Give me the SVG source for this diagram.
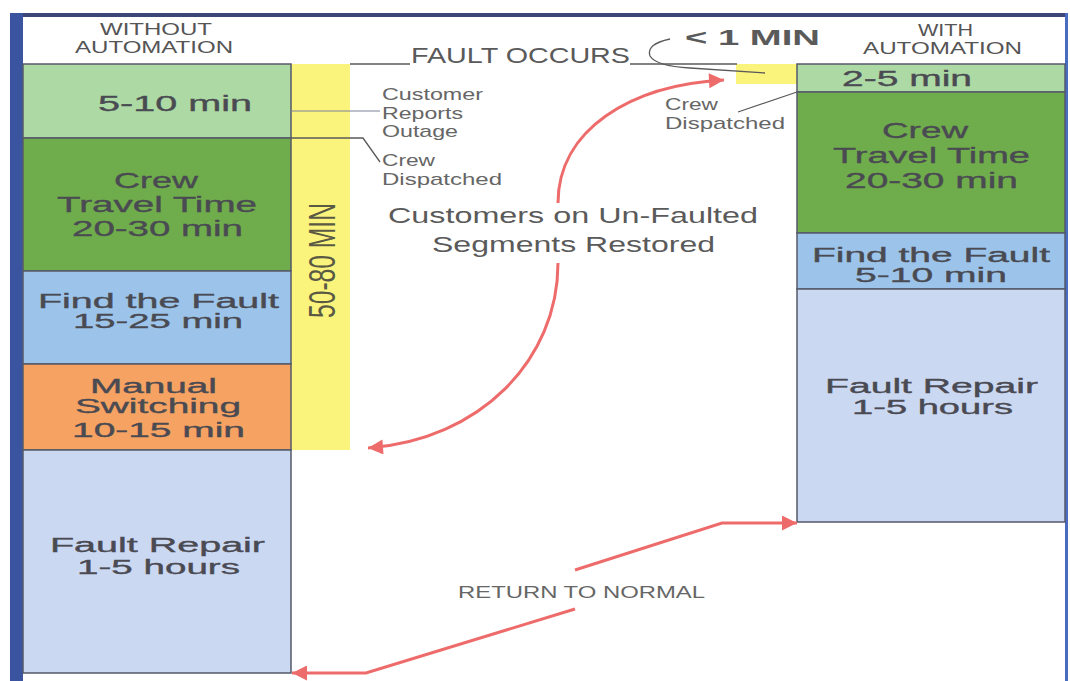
<svg xmlns="http://www.w3.org/2000/svg" width="1070" height="681" viewBox="0 0 1070 681">
<defs>
<style>
.lbl{font-family:"Liberation Sans",Arial,sans-serif;font-size:22px;fill:#4a4a52;stroke:#4a4a52;stroke-width:0.35}
.sm{font-size:20px}
.hdr{font-family:"Liberation Sans",Arial,sans-serif;font-size:17px;fill:#555}
.ann{font-family:"Liberation Sans",Arial,sans-serif;font-size:17px;fill:#666}
.big{font-family:"Liberation Sans",Arial,sans-serif;font-size:22px;fill:#5a5a5a}
.box{stroke:#55596a;stroke-width:1.5}
.lg{fill:#acd9a4}.dg{fill:#6fac4b}.bl{fill:#9cc4ea}.or{fill:#f5a262}.lv{fill:#cad8f2}.ye{fill:#fbf47c}
.red{fill:none;stroke:#ee6b6b;stroke-width:3}
.thin{fill:none;stroke:#5a5a5a;stroke-width:1.3}
</style>
<marker id="ah" viewBox="0 0 10 10" refX="10" refY="5" markerWidth="17" markerHeight="15" markerUnits="userSpaceOnUse" orient="auto">
<path d="M0,0 L10,5 L0,10 z" fill="#ee6b6b"/>
</marker>
</defs>
<rect width="1070" height="681" fill="#fff"/>
<g id="frame">
<rect x="10" y="13" width="1058" height="4" fill="#3c4778"/>
<rect x="10" y="13" width="13" height="668" fill="#3a54a0"/>
<rect x="1065" y="13" width="3" height="668" fill="#4a6cc0"/>
</g>
<g id="header-left">
<text class="hdr" x="100" y="35" textLength="112" lengthAdjust="spacingAndGlyphs">WITHOUT</text>
<text class="hdr" x="75" y="53" textLength="158" lengthAdjust="spacingAndGlyphs">AUTOMATION</text>
</g>
<g id="header-right">
<text class="hdr" x="918" y="36" textLength="55" lengthAdjust="spacingAndGlyphs">WITH</text>
<text class="hdr" x="863" y="54" textLength="159" lengthAdjust="spacingAndGlyphs">AUTOMATION</text>
</g>
<g id="yellow-bar">
<rect class="ye" x="291" y="64" width="59" height="386"/>
<text transform="translate(335,260.5) rotate(-90)" text-anchor="middle" font-family="'Liberation Sans',Arial,sans-serif" font-size="36" fill="#5a5a44" textLength="115" lengthAdjust="spacingAndGlyphs">50-80 MIN</text>
</g>
<g id="yellow-small">
<rect class="ye" x="736" y="64" width="61" height="20"/>
</g>
<g id="left-report">
<rect class="box lg" x="23" y="64" width="268" height="74"/>
<text class="lbl" x="98" y="111" textLength="154" lengthAdjust="spacingAndGlyphs">5-10 min</text>
</g>
<g id="left-travel">
<rect class="box dg" x="23" y="138" width="268" height="133"/>
<text class="lbl" x="114" y="188" textLength="84" lengthAdjust="spacingAndGlyphs">Crew</text>
<text class="lbl" x="57" y="212" textLength="200" lengthAdjust="spacingAndGlyphs">Travel Time</text>
<text class="lbl" x="72" y="236" textLength="171" lengthAdjust="spacingAndGlyphs">20-30 min</text>
</g>
<g id="left-find">
<rect class="box bl" x="23" y="271" width="268" height="93"/>
<text class="lbl sm" x="38" y="308" textLength="241" lengthAdjust="spacingAndGlyphs">Find the Fault</text>
<text class="lbl sm" x="73" y="328" textLength="170" lengthAdjust="spacingAndGlyphs">15-25 min</text>
</g>
<g id="left-switch">
<rect class="box or" x="23" y="364" width="268" height="86"/>
<text class="lbl sm" x="90" y="393" textLength="127" lengthAdjust="spacingAndGlyphs">Manual</text>
<text class="lbl sm" x="75" y="413" textLength="166" lengthAdjust="spacingAndGlyphs">Switching</text>
<text class="lbl sm" x="72" y="437" textLength="173" lengthAdjust="spacingAndGlyphs">10-15 min</text>
</g>
<g id="left-repair">
<rect class="box lv" x="23" y="450" width="268" height="223"/>
<text class="lbl sm" x="50" y="552" textLength="215" lengthAdjust="spacingAndGlyphs">Fault Repair</text>
<text class="lbl sm" x="77" y="574" textLength="163" lengthAdjust="spacingAndGlyphs">1-5 hours</text>
</g>
<g id="right-report">
<rect class="box lg" x="797" y="64" width="268" height="28"/>
<text class="lbl" x="842" y="86" textLength="130" lengthAdjust="spacingAndGlyphs">2-5 min</text>
</g>
<g id="right-travel">
<rect class="box dg" x="797" y="92" width="268" height="141"/>
<text class="lbl" x="882" y="138" textLength="86" lengthAdjust="spacingAndGlyphs">Crew</text>
<text class="lbl" x="833" y="163" textLength="197" lengthAdjust="spacingAndGlyphs">Travel Time</text>
<text class="lbl" x="845" y="188" textLength="173" lengthAdjust="spacingAndGlyphs">20-30 min</text>
</g>
<g id="right-find">
<rect class="box bl" x="797" y="233" width="268" height="56"/>
<text class="lbl sm" x="812" y="262" textLength="238" lengthAdjust="spacingAndGlyphs">Find the Fault</text>
<text class="lbl sm" x="855" y="282" textLength="152" lengthAdjust="spacingAndGlyphs">5-10 min</text>
</g>
<g id="right-repair">
<rect class="box lv" x="797" y="289" width="268" height="233"/>
<text class="lbl sm" x="825" y="393" textLength="213" lengthAdjust="spacingAndGlyphs">Fault Repair</text>
<text class="lbl sm" x="852" y="414" textLength="161" lengthAdjust="spacingAndGlyphs">1-5 hours</text>
</g>
<g id="annotations">
<text class="big" x="411" y="63" font-size="24" textLength="219" lengthAdjust="spacingAndGlyphs">FAULT OCCURS</text>
<text class="big" x="685" y="45" font-size="23" font-weight="bold" fill="#555" textLength="135" lengthAdjust="spacingAndGlyphs">&lt; 1 MIN</text>
<text class="ann" x="382" y="100" textLength="101" lengthAdjust="spacingAndGlyphs">Customer</text>
<text class="ann" x="382" y="119" font-size="16" textLength="81" lengthAdjust="spacingAndGlyphs">Reports</text>
<text class="ann" x="382" y="137" font-size="16" textLength="76" lengthAdjust="spacingAndGlyphs">Outage</text>
<text class="ann" x="382" y="166" textLength="53" lengthAdjust="spacingAndGlyphs">Crew</text>
<text class="ann" x="382" y="185" textLength="120" lengthAdjust="spacingAndGlyphs">Dispatched</text>
<text class="ann" x="665" y="110" textLength="53" lengthAdjust="spacingAndGlyphs">Crew</text>
<text class="ann" x="665" y="129" textLength="120" lengthAdjust="spacingAndGlyphs">Dispatched</text>
<text class="big" x="388" y="223" textLength="370" lengthAdjust="spacingAndGlyphs">Customers on Un-Faulted</text>
<text class="big" x="432" y="252" textLength="283" lengthAdjust="spacingAndGlyphs">Segments Restored</text>
<text class="ann" x="458" y="598" fill="#555" textLength="247" lengthAdjust="spacingAndGlyphs">RETURN TO NORMAL</text>
</g>
<g id="connectors">
<path class="thin" d="M350,64 L410,64"/>
<path class="thin" d="M630,64 L737,64"/>
<path class="thin" d="M670,39 Q646,44 650,56 Q656,66 690,68 L765,73"/>
<path fill="none" stroke="#7c8099" stroke-width="1" d="M291,111 L380,111"/>
<path class="thin" d="M291,138 L363,138 L380,162"/>
<path class="thin" d="M797,92 L738,112"/>
<path class="red" marker-end="url(#ah)" d="M558,203 C558,130 630,85 724,80"/>
<path class="red" marker-end="url(#ah)" d="M558,263 C558,360 480,440 368,448"/>
<path class="red" marker-end="url(#ah)" d="M575,609 L366,673 L292,673"/>
<path class="red" marker-end="url(#ah)" d="M575,570 L722,523 L797,523"/>
</g>
</svg>
